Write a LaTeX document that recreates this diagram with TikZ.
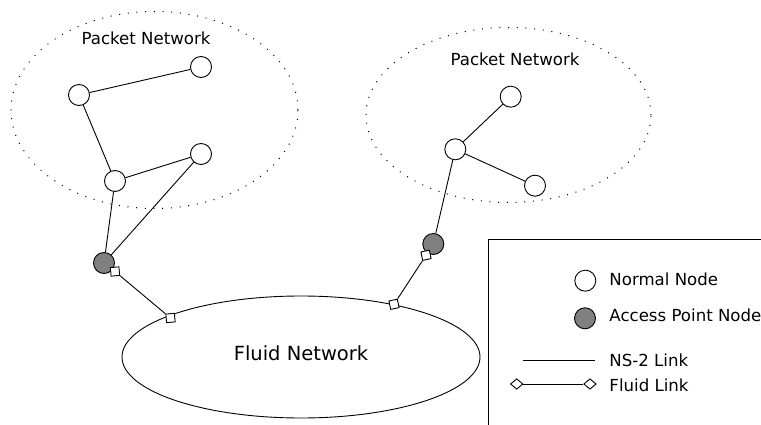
\documentclass[tikz,border=0pt]{standalone}
\usepackage{fontspec}
\setmainfont{DejaVu Sans}
\usetikzlibrary{shapes.geometric}
\definecolor{apgray}{RGB}{128,128,128}
\begin{document}
\begin{tikzpicture}[x=1pt,y=-1pt,line width=0.9pt,
  pnode/.style={circle,draw,fill=white,minimum size=21pt,inner sep=0pt},
  apnode/.style={pnode,fill=apgray},
  cloud/.style={ellipse,draw,line width=1pt,dash pattern=on 1pt off 7.7pt,inner sep=0pt},
  fdiam/.style={diamond,draw,fill=white,minimum width=12.5pt,minimum height=12.5pt,inner sep=0pt},
  ldiam/.style={diamond,draw,fill=white,minimum width=12.5pt,minimum height=10.5pt,inner sep=0pt},
  lbl/.style={font=\fontsize{16.6}{20}\selectfont,inner sep=0pt},
  biglbl/.style={font=\fontsize{19.5}{23}\selectfont,inner sep=0pt}]
\useasboundingbox (0,0) rectangle (761,425);
\clip (0,0) rectangle (761,425);
% clouds
\node[cloud,minimum width=287pt,minimum height=197pt] (pn1) at (154.5,110) {};
\node[cloud,minimum width=285pt,minimum height=175pt] (pn2) at (508.5,115) {};
\node[ellipse,draw,minimum width=358pt,minimum height=122pt,inner sep=0pt] (fn) at (301,357) {};
\node[lbl,anchor=base] (t1) at (146,45) {Packet Network};
\node[lbl,anchor=base] (t2) at (515,65.7) {Packet Network};
\node[biglbl,anchor=base] (t3) at (301,360) {Fluid Network};
% left packet network
\node[pnode] (a) at (79,95) {};
\node[pnode] (b) at (201,67) {};
\node[pnode] (c) at (115,181) {};
\node[pnode] (d) at (201,154) {};
\node[apnode] (ap1) at (104,263) {};
\draw (a) -- (b);
\draw (a) -- (c);
\draw (c) -- (d);
\draw (c) -- (ap1);
\draw (d) -- (ap1);
% right packet network
\node[pnode] (e) at (510.7,96.7) {};
\node[pnode] (f) at (455.3,149.3) {};
\node[pnode] (g) at (535,185.7) {};
\node[apnode] (ap2) at (433.3,244) {};
\draw (f) -- (e);
\draw (f) -- (g);
\draw (f) -- (ap2);
% fluid links
\node[fdiam,rotate=-40] (s1) at (115,271.5) {};
\node[fdiam,rotate=-40] (s2) at (170.5,318) {};
\draw (s1) -- (s2);
\node[fdiam,rotate=57] (s3) at (426,255.3) {};
\node[fdiam,rotate=57] (s4) at (394,304.3) {};
\draw (s3) -- (s4);
% legend
\draw (488,460) -- (488,239) -- (800,239);
\node[pnode] (ln) at (585.3,280.7) {};
\node[apnode] (la) at (585,318.3) {};
\node[lbl,anchor=base west] (lt1) at (609,285) {Normal Node};
\node[lbl,anchor=base west] (lt2) at (609,321.7) {Access Point Node};
\coordinate (l1a) at (522.7,360);
\coordinate (l1b) at (595,360);
\draw (l1a) -- (l1b);
\node[lbl,anchor=base west] (lt3) at (609,366) {NS-2 Link};
\node[ldiam] (l2a) at (516.7,384) {};
\node[ldiam] (l2b) at (590,384) {};
\draw (l2a) -- (l2b);
\node[lbl,anchor=base west] (lt4) at (609,391.7) {Fluid Link};
\end{tikzpicture}
\end{document}
